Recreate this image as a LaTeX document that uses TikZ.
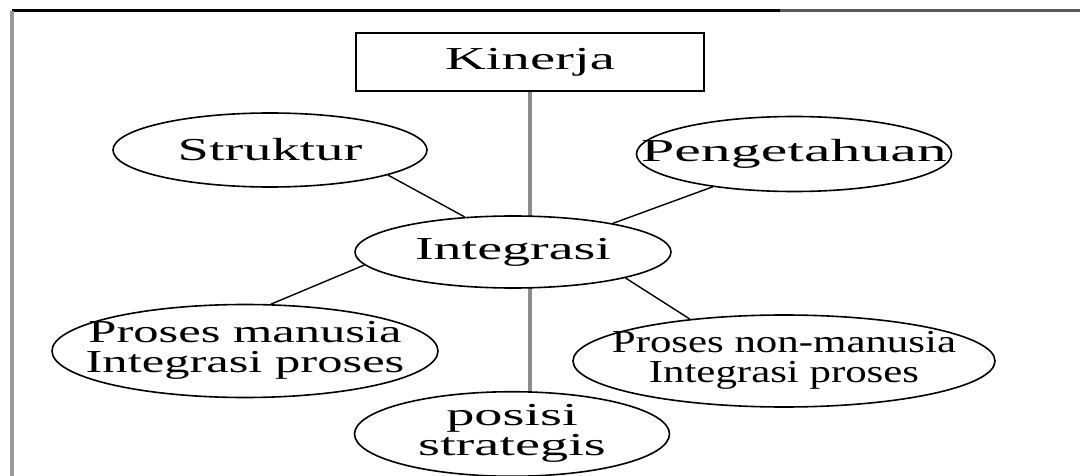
\documentclass[tikz,border=0pt]{standalone}
\usepackage{graphicx}
\usepackage{fontspec}
\setmainfont{Liberation Serif}
\usetikzlibrary{shapes.geometric,backgrounds}
\newcommand\wtxt[2]{\makebox[0pt]{\scalebox{#1}[1]{#2}}}
\newcommand\wtwo[3]{\makebox[0pt]{\scalebox{#1}[1]{\begin{tabular}{@{}c@{}}#2\\#3\end{tabular}}}}
\begin{document}
\begin{tikzpicture}[x=1pt,y=-1pt,
  every node/.style={font=\fontsize{32}{27}\selectfont},
  ell/.style={draw=black, line width=1.6pt, ellipse, inner sep=0pt, fill=white},
  kbox/.style={draw=black, line width=1.6pt, rectangle, inner sep=0pt, fill=white,
               minimum width=348pt, minimum height=58pt},
  conn/.style={draw=black, line width=1.4pt},
  vline/.style={draw=black!45, line width=3.5pt},
  frame/.style={line width=3pt}]
\useasboundingbox (0,0) rectangle (1080,476);
% frame
\coordinate (ftl) at (12,11);
\coordinate (fmid) at (780,11);
\coordinate (ftr) at (1080,11);
\coordinate (fbl) at (12,476);
\draw[frame, black] (ftl) -- (fmid);
\draw[frame, black!65] (fmid) -- (ftr);
\draw[line width=4pt, black!40] (ftl) -- (fbl);
% nodes
\node[kbox] (kinerja) at (530,62) {\wtxt{1.77}{Kinerja}};
\node[ell, minimum width=314pt, minimum height=74pt] (struktur) at (270,150) {\wtxt{1.76}{Struktur}};
\node[ell, minimum width=315pt, minimum height=75pt] (pengetahuan) at (794,154) {\wtxt{1.87}{Pengetahuan}};
\node[ell, minimum width=316pt, minimum height=72pt] (integrasi) at (513,252) {\wtxt{1.75}{Integrasi}};
\node[ell, minimum width=386pt, minimum height=93pt] (manusia) at (245,351) {\wtwo{1.58}{Proses manusia}{Integrasi proses}};
\node[ell, minimum width=422pt, minimum height=92pt] (nonmanusia) at (784,361) {\wtwo{1.34}{Proses non-manusia}{Integrasi proses}};
\node[ell, minimum width=315pt, minimum height=73pt, font=\fontsize{32}{29}\selectfont] (posisi) at (512,434) {\wtwo{1.76}{posisi}{strategis}};
% connectors
\begin{scope}[on background layer]
\draw[vline] (kinerja.south) -- (kinerja.south |- posisi.center);
\end{scope}
\draw[conn] (struktur.-12) -- (integrasi.144);
\draw[conn] (pengetahuan.-158) -- (integrasi.16);
\draw[conn] (integrasi.-175) -- (manusia.61);
\draw[conn] (integrasi.-13) -- (nonmanusia.156);
\end{tikzpicture}
\end{document}
